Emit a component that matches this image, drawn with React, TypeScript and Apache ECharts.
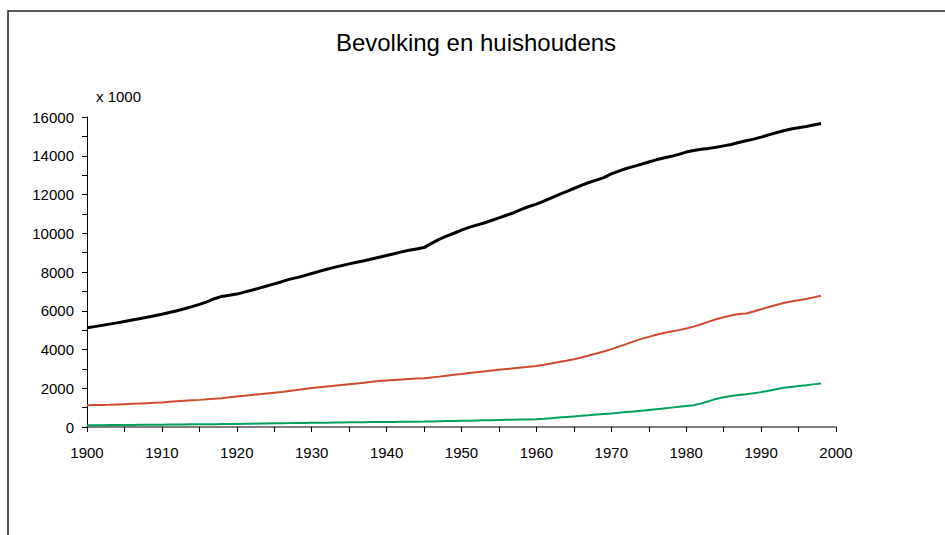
import React, { useEffect, useRef } from "react";
import * as echarts from "echarts";

const TITLE = "Bevolking en huishoudens";
const UNIT_LABEL = "x 1000";
const FIRST_YEAR = 1900;

// Annual values, 1900..1998 (x 1000), one row per decade
const bevolking = [
  5120, 5180, 5245, 5310, 5375, 5450, 5520, 5590, 5660, 5740,
  5820, 5910, 6000, 6100, 6210, 6330, 6460, 6620, 6740, 6800,
  6860, 6960, 7060, 7170, 7280, 7390, 7500, 7620, 7710, 7810,
  7920, 8030, 8140, 8240, 8330, 8420, 8500, 8580, 8670, 8760,
  8850, 8940, 9040, 9120, 9190, 9260, 9480, 9680, 9850, 10000,
  10160, 10300, 10420, 10530, 10660, 10790, 10930, 11060, 11230, 11380,
  11500, 11660, 11820, 11990, 12150, 12310, 12470, 12620, 12740, 12870,
  13060, 13210, 13340, 13450, 13560, 13680, 13790, 13880, 13970, 14070,
  14190, 14270, 14330, 14380, 14440, 14510, 14580, 14680, 14770, 14860,
  14960, 15080, 15190, 15290, 15380, 15450, 15510, 15590, 15660,
];

const huishoudens = [
  1120, 1130, 1140, 1150, 1165, 1180, 1195, 1210, 1230, 1250,
  1270, 1300, 1325, 1350, 1375, 1400, 1430, 1460, 1490, 1530,
  1570, 1610, 1650, 1690, 1730, 1770, 1810, 1860, 1910, 1960,
  2010, 2050, 2090, 2130, 2170, 2210, 2250, 2290, 2330, 2370,
  2400, 2430, 2455, 2480, 2500, 2520, 2560, 2600, 2650, 2700,
  2740, 2790, 2830, 2870, 2910, 2950, 2990, 3030, 3070, 3110,
  3150, 3210, 3280, 3350, 3420, 3500, 3590, 3690, 3790, 3900,
  4020, 4150, 4280, 4420, 4550, 4650, 4760, 4850, 4930, 5000,
  5080, 5180, 5300, 5440, 5560, 5660, 5750, 5830, 5860, 5960,
  6080, 6190, 6300, 6400, 6480, 6540, 6610, 6690, 6770,
];

const eenpersoons = [
  90, 93, 96, 99, 102, 105, 108, 111, 114, 117,
  120, 124, 128, 132, 136, 140, 144, 148, 152, 156,
  160, 166, 172, 178, 184, 190, 195, 200, 205, 210,
  215, 220, 225, 230, 235, 240, 244, 248, 252, 256,
  260, 264, 268, 272, 276, 280, 288, 296, 304, 312,
  320, 328, 336, 344, 352, 360, 368, 376, 384, 392,
  400, 425, 455, 485, 515, 545, 575, 605, 640, 670,
  700, 735, 770, 805, 840, 880, 920, 960, 1000, 1040,
  1080, 1120, 1220, 1330, 1450, 1540, 1600, 1650, 1690, 1740,
  1800, 1870, 1950, 2030, 2070, 2110, 2150, 2200, 2250,
];

const toPairs = (vals: number[]) => vals.map((v, i) => [FIRST_YEAR + i, v]);

const FONT = "'Liberation Sans', Arial, sans-serif";

export default function App() {
  const ref = useRef<HTMLDivElement>(null);

  useEffect(() => {
    document.body.style.margin = "0";
    if (!ref.current) return;
    const chart = echarts.init(ref.current, null, { renderer: "svg" });
    chart.setOption({
      animation: false,
      backgroundColor: "#ffffff",
      textStyle: { fontFamily: FONT },
      grid: { left: 87, right: 109, top: 117, bottom: 108, containLabel: false },
      graphic: [
        {
          type: "polyline",
          shape: { points: [[8, 535], [8, 11], [945, 11]] },
          style: { stroke: "#222", lineWidth: 1.5, fill: "none" },
          silent: true,
        },
        {
          type: "text",
          x: 476,
          y: 42,
          style: {
            text: TITLE,
            fontSize: 24,
            fontFamily: FONT,
            fill: "#000",
            align: "center",
            verticalAlign: "middle",
          },
        },
        {
          type: "text",
          x: 96,
          y: 96,
          style: {
            text: UNIT_LABEL,
            fontSize: 15,
            fontFamily: FONT,
            fill: "#000",
            align: "left",
            verticalAlign: "middle",
          },
        },
      ],
      xAxis: {
        type: "value",
        min: 1900,
        max: 2000,
        interval: 10,
        axisLine: { show: true, lineStyle: { color: "#555", width: 1.5 } },
        axisTick: { show: true, inside: false, length: 5, lineStyle: { color: "#000" } },
        minorTick: { show: true, splitNumber: 2, length: 5, lineStyle: { color: "#000" } },
        splitLine: { show: false },
        minorSplitLine: { show: false },
        axisLabel: {
          color: "#000",
          fontSize: 15,
          fontFamily: FONT,
          margin: 18,
          formatter: (v: number) => String(v),
        },
      },
      yAxis: {
        type: "value",
        min: 0,
        max: 16000,
        interval: 2000,
        axisLine: { show: true, lineStyle: { color: "#000", width: 1 } },
        axisTick: { show: true, inside: false, length: 5, lineStyle: { color: "#000" } },
        minorTick: { show: true, splitNumber: 2, length: 5, lineStyle: { color: "#000" } },
        splitLine: { show: false },
        minorSplitLine: { show: false },
        axisLabel: {
          color: "#000",
          fontSize: 15,
          fontFamily: FONT,
          margin: 13,
          formatter: (v: number) => String(v),
        },
      },
      series: [
        {
          name: "Bevolking",
          type: "line",
          data: toPairs(bevolking),
          showSymbol: false,
          symbol: "none",
          lineStyle: { color: "#000", width: 3 },
          z: 3,
        },
        {
          name: "Huishoudens",
          type: "line",
          data: toPairs(huishoudens),
          showSymbol: false,
          symbol: "none",
          lineStyle: { color: "#d04a32", width: 2 },
          z: 2,
        },
        {
          name: "Eenpersoonshuishoudens",
          type: "line",
          data: toPairs(eenpersoons),
          showSymbol: false,
          symbol: "none",
          lineStyle: { color: "#00a05a", width: 2 },
          z: 2,
        },
      ],
    });
    return () => chart.dispose();
  }, []);

  return <div ref={ref} style={{ width: 945, height: 535 }} />;
}
